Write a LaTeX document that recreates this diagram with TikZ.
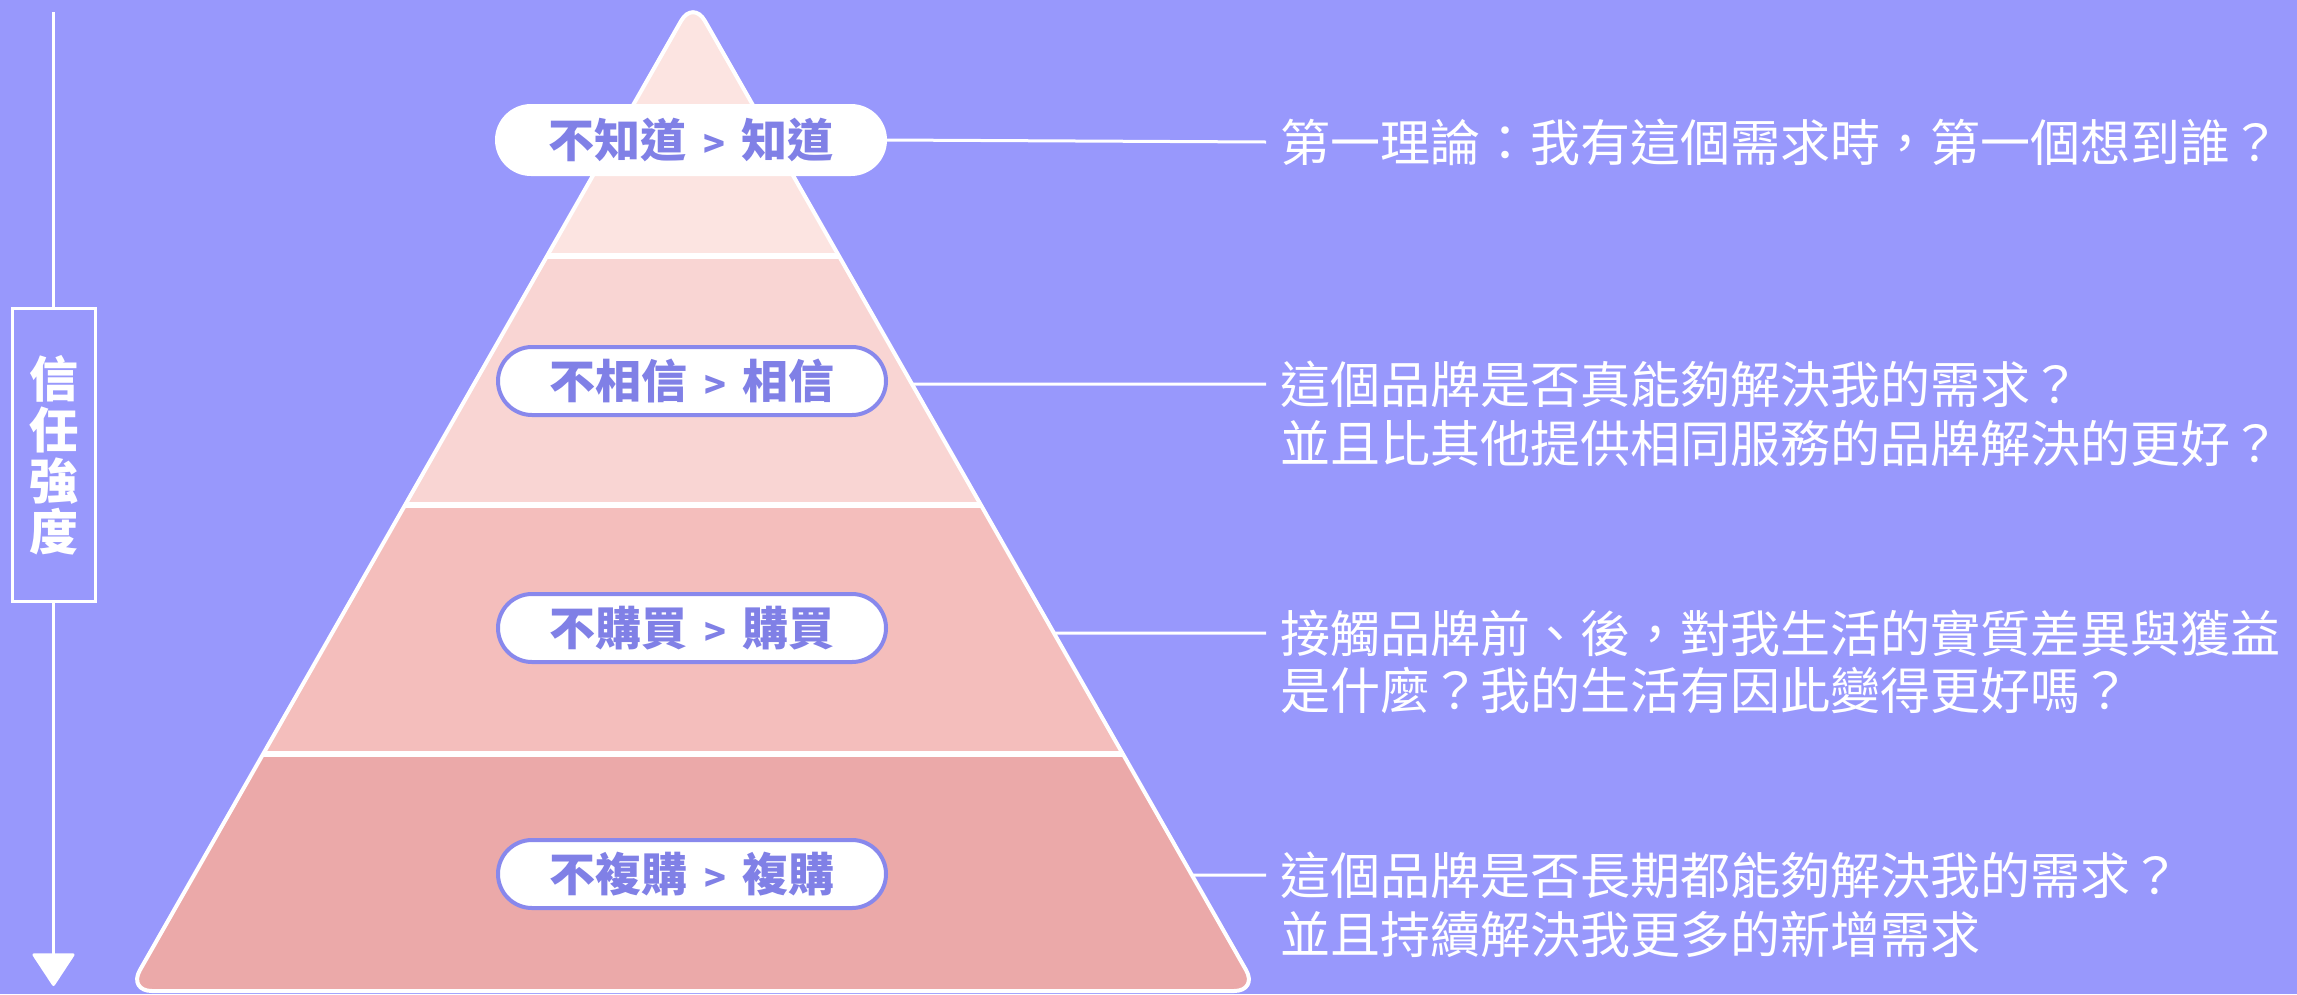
\documentclass[tikz,border=0pt]{standalone}
\usepackage{fontspec}
\newfontfamily\cjk{Noto Sans CJK TC}
\usetikzlibrary{calc,arrows.meta,shapes.misc}
\definecolor{bg}{RGB}{152,152,252}
\definecolor{bandA}{RGB}{252,228,225}
\definecolor{bandB}{RGB}{249,213,211}
\definecolor{bandC}{RGB}{244,190,188}
\definecolor{bandD}{RGB}{235,169,169}
\definecolor{pillc}{RGB}{136,136,236}
\definecolor{pilltext}{RGB}{128,128,230}
\tikzset{
  pill/.style={rounded rectangle, fill=white, draw=pillc, line width=4pt,
    minimum width=388pt, minimum height=68pt, inner sep=0pt,
    font=\cjk\bfseries\fontsize{46}{46}\selectfont, text=pilltext},
  rtext/.style={anchor=west, inner xsep=14pt, inner ysep=0pt, text=white,
    font=\cjk\fontsize{50}{50}\selectfont},
  conn/.style={white, line width=3pt},
  trustbox/.style={draw=white, line width=3pt, fill=bg, minimum width=83pt,
    minimum height=293pt, align=center, inner sep=0pt, text=white,
    font=\cjk\bfseries\fontsize{49}{51}\selectfont}
}
\newcommand{\gt}{\hspace{17pt}{\fontsize{36}{36}\selectfont >}\hspace{17pt}}
\begin{document}
\begin{tikzpicture}[x=1pt,y=-1pt]
\fill[bg] (0,0) rectangle (2297,994);
\useasboundingbox (0,0) rectangle (2297,994);
\coordinate (apex) at (693,0);
\coordinate (bl) at (128,991);
\coordinate (br) at (1258,991);
\begin{scope}
  \clip[rounded corners=24pt] (apex) -- (br) -- (bl) -- cycle;
  \fill[bandA] (0,0) rectangle (2297,256);
  \fill[bandB] (0,256) rectangle (2297,505);
  \fill[bandC] (0,505) rectangle (2297,754);
  \fill[bandD] (0,754) rectangle (2297,994);
  \draw[white,line width=6pt] (0,256) -- (2297,256);
  \draw[white,line width=6pt] (0,505) -- (2297,505);
  \draw[white,line width=6pt] (0,754) -- (2297,754);
\end{scope}
\draw[white,line width=4pt,rounded corners=24pt] (apex) -- (br) -- (bl) -- cycle;

\node[pill, draw=white] (p1) at (691,140) {不知道\gt 知道};
\node[pill] (p2) at (692,381) {不相信\gt 相信};
\node[pill] (p3) at (692,628) {不購買\gt 購買};
\node[pill] (p4) at (692,874) {不複購\gt 複購};

\node[rtext] (t1) at (1266,142) {第一理論：我有這個需求時，第一個想到誰？};
\node[rtext] (t2a) at (1266,384) {這個品牌是否真能夠解決我的需求？};
\node[rtext] (t2b) at (1266,443) {並且比其他提供相同服務的品牌解決的更好？};
\node[rtext] (t3a) at (1266,633) {接觸品牌前、後，對我生活的實質差異與獲益};
\node[rtext] (t3b) at (1266,691) {是什麼？我的生活有因此變得更好嗎？};
\node[rtext] (t4a) at (1266,875) {這個品牌是否長期都能夠解決我的需求？};
\node[rtext] (t4b) at (1266,934) {並且持續解決我更多的新增需求};

\coordinate (e2) at ($(apex)!{384/991}!(br)$);
\coordinate (e3) at ($(apex)!{633/991}!(br)$);
\coordinate (e4) at ($(apex)!{875/991}!(br)$);
\draw[conn] (p1.east) -- (t1.west);
\draw[conn] (e2) -- (t2a.west);
\draw[conn] (e3) -- (t3a.west);
\draw[conn] (e4) -- (t4a.west);

\node[trustbox] (trust) at (53.5,455) {信\\任\\強\\度};
\coordinate (atop) at (53.5,12);
\coordinate (abot) at (53.5,986);
\draw[white,line width=3pt] (atop) -- (trust.north);
\draw[white,line width=3pt,-{Triangle[width=44pt,length=34pt,round]}] (trust.south) -- (abot);
\end{tikzpicture}
\end{document}
